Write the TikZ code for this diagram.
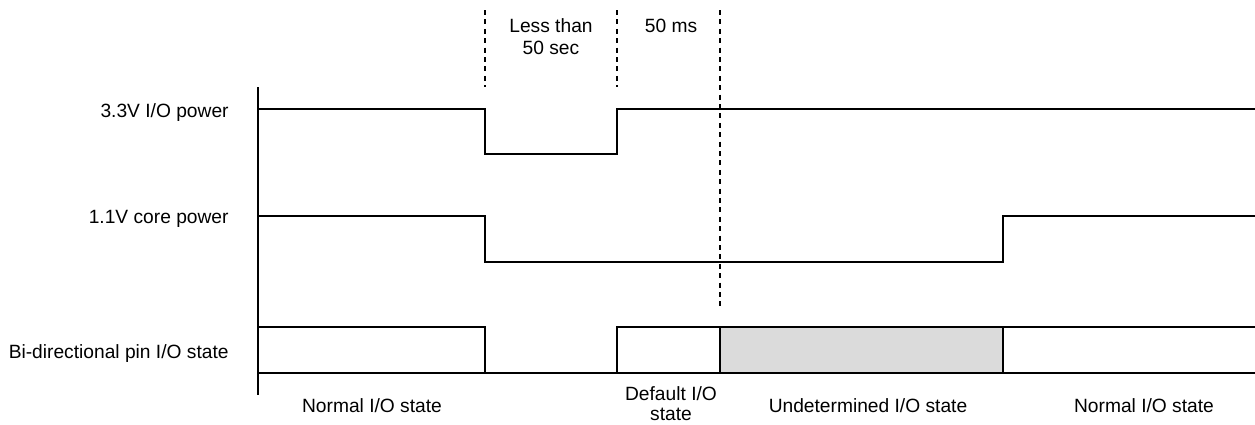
\documentclass[tikz,border=0pt]{standalone}
\usepackage{fontspec}
\setmainfont{Liberation Sans}
\begin{document}
\begin{tikzpicture}[x=0.5pt,y=-0.5pt,
  sig/.style={line width=0.95pt,line join=miter},
  guide/.style={line width=0.6pt,dash pattern=on 2.5pt off 2.2pt},
  lbl/.style={font=\fontsize{9.6pt}{11pt}\selectfont,inner sep=0pt,anchor=base},
  lblr/.style={lbl,anchor=base east},
  undet/.style={fill=gray!28!white}]
\useasboundingbox (0,0) rectangle (1255,424);
\clip (0,0) rectangle (1255,424);
% guides
\coordinate (g1t) at (485,10); \coordinate (g1b) at (485,87);
\coordinate (g2t) at (617,10); \coordinate (g2b) at (617,87);
\coordinate (g3t) at (720,10); \coordinate (g3b) at (720,307);
\draw[guide] (g1t) -- (g1b);
\draw[guide] (g2t) -- (g2b);
\draw[guide] (g3t) -- (g3b);
% interval labels
\node[lbl] (lt1) at (551,32) {Less than};
\node[lbl] (lt2) at (551,54) {50 sec};
\node[lbl] (ms) at (671,32) {50 ms};
% axis
\coordinate (axt) at (258,87); \coordinate (axb) at (258,395);
\draw[sig] (axt) -- (axb);
% signal labels
\node[lblr] (s1) at (229,117) {3.3V I/O power};
\node[lblr] (s2) at (229,223) {1.1V core power};
\node[lblr] (s3) at (229,358) {Bi-directional pin I/O state};
% gray undetermined region
\fill[undet] (720,327) rectangle (1003,373);
% 3.3V
\draw[sig] (258,109) -- (485,109) -- (485,154) -- (617,154) -- (617,109) -- (1255,109);
% 1.1V
\draw[sig] (258,216) -- (485,216) -- (485,262) -- (1003,262) -- (1003,216) -- (1255,216);
% bidirectional
\draw[sig] (258,373) -- (1255,373);
\draw[sig] (258,327) -- (485,327) -- (485,373);
\draw[sig] (617,373) -- (617,327) -- (1255,327);
\draw[sig] (720,327) -- (720,373);
\draw[sig] (1003,327) -- (1003,373);
% state labels
\node[lbl] (n1) at (372,412) {Normal I/O state};
\node[lbl] (d1) at (671,400) {Default I/O};
\node[lbl] (d2) at (671,420) {state};
\node[lbl] (u1) at (868,412) {Undetermined I/O state};
\node[lbl] (n2) at (1144,412) {Normal I/O state};
\end{tikzpicture}
\end{document}
